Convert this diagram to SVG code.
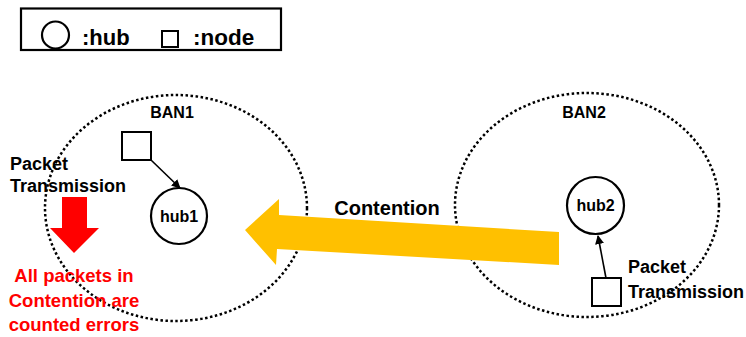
<svg xmlns="http://www.w3.org/2000/svg" width="746" height="337" viewBox="0 0 746 337">
  <defs>
    <style>
      .ban { fill: none; stroke: #000; stroke-width: 2.5; stroke-dasharray: 2.5 2.5; }
      .hub { fill: #fff; stroke: #000; stroke-width: 2.2; }
      .node { fill: #fff; stroke: #000; stroke-width: 2; }
      .link { fill: none; stroke: #000; stroke-width: 1.6; marker-end: url(#tip); }
      text { font-family: "Liberation Sans", Arial, sans-serif; font-weight: bold; }
      .lbl { fill: #000; font-size: 18px; }
      .err { fill: #ff0000; font-size: 18.5px; text-anchor: middle; }
    </style>
    <marker id="tip" viewBox="0 0 10 10" refX="9" refY="5" markerWidth="9" markerHeight="9" markerUnits="userSpaceOnUse" orient="auto">
      <path d="M0,0 L10,5 L0,10 Z" fill="#000"/>
    </marker>
  </defs>

  <!-- legend -->
  <g id="legend">
    <rect x="21" y="8.5" width="260" height="41.5" fill="#fff" stroke="#000" stroke-width="2.2"/>
    <circle cx="55.5" cy="35" r="13.5" class="hub"/>
    <text x="82" y="45" font-size="22">:hub</text>
    <rect x="162" y="31" width="16" height="16" class="node"/>
    <text x="193" y="45" font-size="22.5">:node</text>
  </g>

  <!-- body area networks -->
  <g id="ban1">
    <ellipse cx="176" cy="208" rx="131" ry="113" class="ban"/>
    <text x="172" y="118" font-size="16" text-anchor="middle">BAN1</text>
  </g>
  <g id="ban2">
    <ellipse cx="587" cy="205" rx="132" ry="112" class="ban"/>
    <text x="584" y="118" font-size="16" text-anchor="middle">BAN2</text>
  </g>

  <!-- contention arrow -->
  <g id="contention">
    <polygon points="245,230 279,199 279,215 559,232 559,265 277,249 276,265" fill="#ffc000"/>
    <text x="387" y="215" font-size="20" text-anchor="middle">Contention</text>
  </g>

  <!-- hubs and nodes -->
  <g id="node1">
    <rect x="122" y="132" width="29" height="28" class="node"/>
  </g>
  <g id="hub1">
    <circle cx="179" cy="216" r="28" class="hub"/>
    <text x="179" y="222" font-size="16" text-anchor="middle">hub1</text>
  </g>
  <g id="hub2">
    <circle cx="595.5" cy="205.5" r="28.5" class="hub"/>
    <text x="595.5" y="211" font-size="16" text-anchor="middle">hub2</text>
  </g>
  <g id="node2">
    <rect x="592" y="278" width="29" height="28" class="node"/>
  </g>

  <!-- connectors -->
  <g id="connectors">
    <line x1="151" y1="160" x2="180" y2="188" class="link"/>
    <line x1="606" y1="278" x2="598" y2="236" class="link"/>
  </g>

  <!-- annotations -->
  <g id="tx1">
    <text x="10" y="170" class="lbl">Packet</text>
    <text x="10" y="192" class="lbl">Transmission</text>
  </g>
  <g id="tx2">
    <text x="628" y="273" class="lbl">Packet</text>
    <text x="628" y="298" class="lbl">Transmission</text>
  </g>
  <g id="error">
    <polygon points="62,197 87,197 87,228 99,228 74,253 50,228 62,228" fill="#ff0000"/>
    <text x="74" y="282" class="err">All packets in</text>
    <text x="74" y="307" class="err">Contention are</text>
    <text x="74" y="331" class="err">counted errors</text>
  </g>
</svg>
